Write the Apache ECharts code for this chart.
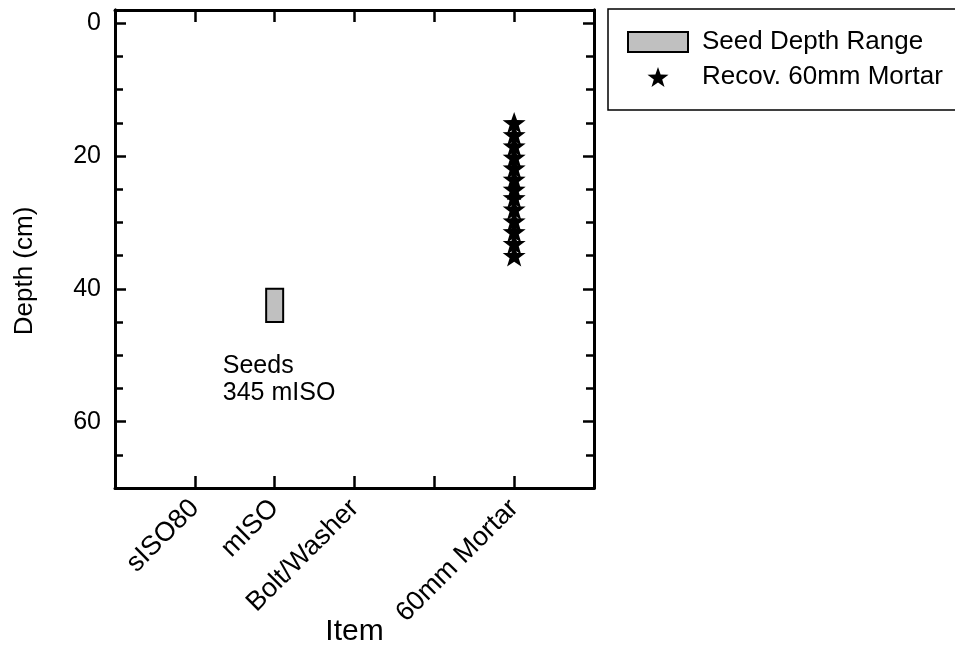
<!DOCTYPE html>
<html>
<head>
<meta charset="utf-8">
<script src="https://cdn.jsdelivr.net/npm/echarts@6/dist/echarts.min.js"></script>
<style>
  html, body { margin: 0; padding: 0; background: #fff; }
  #chart { width: 955px; height: 647px; }
</style>
</head>
<body>
<div id="chart"></div>
<script>
// x positions of the items on the axis
const itemNames = ['sISO80', 'mISO', 'Bolt/Washer', '60mm Mortar'];
const itemPositions = [1, 2, 3, 5];
const xTickValues = [1, 2, 3, 4, 5];

// depth axis ticks
const depthLabels = [0, 20, 40, 60];
const depthMinorTicks = [5, 10, 15, 25, 30, 35, 45, 50, 55, 65];

// seed depth range: [x, top depth, bottom depth]
const seedRange = [[2, 40, 45]];

// recovered 60mm mortar depths (cm)
const mortarX = 5;
const mortarDepths = [15, 16.8, 18.5, 20.2, 21.8, 23.5, 25, 26.3, 28, 29.8, 31.4, 33.2, 35];

const seedNote = 'Seeds\n345 mISO';
const seedNotePos = [1.35, 53.6];

const font = 'Liberation Sans, Arial, sans-serif';
const starPath = 'path://M0,-10 L2.35,-3.24 L9.51,-3.09 L3.8,1.24 L5.88,8.09 L0,4 L-5.88,8.09 L-3.8,1.24 L-9.51,-3.09 L-2.35,-3.24 Z';

const chart = echarts.init(document.getElementById('chart'));

const frameLine = { show: true, onZero: false, lineStyle: { color: '#000', width: 3 } };

function depthAxis(position, ticks, len, withLabel) {
  return {
    type: 'value',
    position: position,
    inverse: true,
    min: -2,
    max: 70,
    axisLine: frameLine,
    splitLine: { show: false },
    axisTick: { show: true, inside: true, length: len, customValues: ticks,
      lineStyle: { color: '#000', width: 2.5 } },
    axisLabel: withLabel ? {
      show: true, customValues: depthLabels, margin: 14,
      color: '#000', fontSize: 25, fontFamily: font
    } : { show: false }
  };
}

const yMain = depthAxis('left', depthLabels, 11, true);
yMain.name = 'Depth (cm)';
yMain.nameLocation = 'middle';
yMain.nameGap = 77;
yMain.nameMoveOverlap = false;
yMain.nameTextStyle = { color: '#000', fontSize: 26, fontFamily: font, padding: [0, 44, 0, 0] };

const option = {
  backgroundColor: '#fff',
  animation: false,
  grid: { left: 115, right: 361, top: 10, bottom: 159, outerBoundsMode: 'none', containLabel: false },
  legend: {
    left: 608,
    top: 9,
    orient: 'vertical',
    itemWidth: 60,
    itemHeight: 20,
    itemGap: 9,
    padding: [20, 40, 20, 19],
    borderColor: '#000',
    borderWidth: 1.5,
    textStyle: { color: '#000', fontSize: 26, fontFamily: font, padding: [0, 0, 0, 9] },
    data: [
      { name: 'Seed Depth Range', icon: 'rect',
        itemStyle: { color: '#c0c0c0', borderColor: '#000', borderWidth: 2 } },
      { name: 'Recov. 60mm Mortar', itemStyle: { opacity: 1 } }
    ]
  },
  xAxis: [
    {
      type: 'value',
      position: 'bottom',
      min: 0,
      max: 6,
      axisLine: frameLine,
      splitLine: { show: false },
      axisTick: { show: true, inside: true, length: 12, customValues: xTickValues,
        lineStyle: { color: '#000', width: 2.5 } },
      axisLabel: {
        show: true,
        customValues: itemPositions,
        rotate: 45,
        margin: 16,
        color: '#000',
        fontSize: 27,
        fontFamily: font,
        formatter: function (v) {
          const i = itemPositions.indexOf(v);
          return i >= 0 ? itemNames[i] : '';
        }
      },
      name: 'Item',
      nameLocation: 'middle',
      nameGap: 129,
      nameMoveOverlap: false,
      nameTextStyle: { color: '#000', fontSize: 30, fontFamily: font }
    },
    {
      type: 'value',
      position: 'top',
      min: 0,
      max: 6,
      axisLine: frameLine,
      splitLine: { show: false },
      axisTick: { show: true, inside: true, length: 12, customValues: xTickValues,
        lineStyle: { color: '#000', width: 2.5 } },
      axisLabel: { show: false }
    }
  ],
  yAxis: [
    yMain,
    depthAxis('left', depthMinorTicks, 8, false),
    depthAxis('right', depthLabels, 11, false),
    depthAxis('right', depthMinorTicks, 8, false)
  ],
  series: [
    {
      name: 'Seed Depth Range',
      type: 'custom',
      xAxisIndex: 0,
      yAxisIndex: 0,
      data: seedRange,
      renderItem: function (params, api) {
        const x = api.value(0);
        const top = api.coord([x, api.value(1)]);
        const bottom = api.coord([x, api.value(2)]);
        const w = 17;
        return {
          type: 'rect',
          shape: { x: top[0] - w / 2, y: top[1], width: w, height: bottom[1] - top[1] },
          style: { fill: '#c0c0c0', stroke: '#000', lineWidth: 2 }
        };
      }
    },
    {
      name: 'Recov. 60mm Mortar',
      type: 'scatter',
      xAxisIndex: 0,
      yAxisIndex: 0,
      symbol: starPath,
      symbolKeepAspect: true,
      symbolSize: 23,
      itemStyle: { color: '#000', opacity: 1 },
      data: mortarDepths.map(function (d) { return [mortarX, d]; })
    },
    {
      name: 'note',
      type: 'scatter',
      silent: true,
      xAxisIndex: 0,
      yAxisIndex: 0,
      symbolSize: 0,
      itemStyle: { opacity: 1 },
      data: [seedNotePos],
      label: {
        show: true,
        position: 'right',
        distance: 0,
        formatter: seedNote,
        color: '#000',
        opacity: 1,
        fontSize: 25,
        lineHeight: 27,
        fontFamily: font
      }
    }
  ]
};

chart.setOption(option);
</script>
</body>
</html>
